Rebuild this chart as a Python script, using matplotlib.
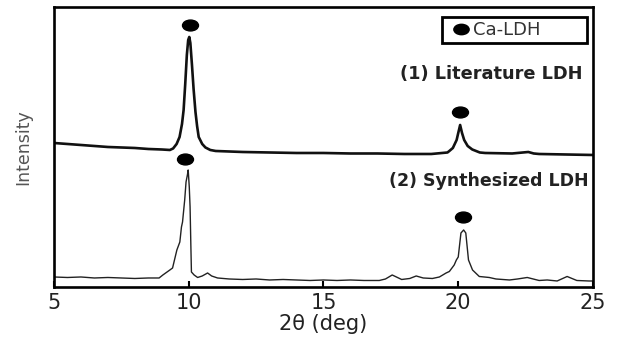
import numpy as np
import matplotlib
matplotlib.use("Agg")
import matplotlib.pyplot as plt
from matplotlib.path import Path
from matplotlib.lines import Line2D

# 2theta (deg) / intensity (a.u.)
lit_2theta = [5.0, 5.5, 6.0, 6.5, 7.0, 7.5, 8.0, 8.5, 9.0, 9.3, 9.42, 9.55, 9.66,
              9.75, 9.81, 9.87, 9.93, 9.98, 10.02, 10.06, 10.12, 10.18, 10.25,
              10.31, 10.37, 10.5, 10.62, 10.8, 11.0, 12.0, 13.0, 14.0, 15.0,
              16.0, 17.0, 18.0, 19.0, 19.6, 19.67, 19.8, 19.94, 20.0, 20.07,
              20.14, 20.22, 20.35, 20.52, 20.8, 21.0, 22.0, 22.6, 22.8, 23.0,
              24.0, 25.0]
lit_int = [144, 143, 142, 141, 140, 139.5, 139, 138, 137.5, 137, 138.5, 143, 150,
           163, 177, 203, 232, 247, 250, 244, 222, 198, 175,
           161, 150, 143, 139.5, 137, 136, 135, 134.5, 134, 134,
           133.5, 133.5, 133, 133, 134.5, 136, 139, 147, 154, 162,
           154, 147, 141, 137.5, 134.5, 134, 133.5, 135, 133.5, 133,
           132.5, 132]

syn_2theta = [5.0, 5.5, 6.0, 6.5, 7.0, 7.5, 8.0, 8.5, 8.9, 9.04, 9.3, 9.4, 9.56,
              9.67, 9.73, 9.77, 9.85, 9.9, 9.95, 9.98, 10.02, 10.05, 10.08, 10.1,
              10.2, 10.33, 10.5, 10.7, 10.85, 11.07, 11.5, 12.0, 12.5, 13.0, 13.5,
              14.0, 14.5, 15.0, 15.5, 16.0, 16.5, 17.07, 17.3, 17.55, 17.9, 18.2,
              18.44, 18.7, 19.04, 19.3, 19.55, 19.67, 19.85, 19.93, 20.0, 20.1,
              20.2, 20.28, 20.38, 20.53, 20.78, 21.15, 21.4, 21.9, 22.2, 22.56,
              23.0, 23.3, 23.67, 24.04, 24.4, 24.85, 25.0]
syn_int = [10, 9.5, 10, 9, 9.5, 9, 8.5, 9, 9, 12, 17, 19, 37,
           45, 60, 65, 87, 105, 112, 117, 100, 80, 40, 15,
           12, 9.5, 11, 14, 11, 9, 8, 7.5, 8, 7, 7.5,
           7, 6.5, 7, 6.5, 7, 6.5, 6.5, 8, 12, 7.5, 8.5,
           11, 9, 8.5, 10, 14, 15.5, 22, 27, 30, 54,
           57, 54, 27, 17, 10.5, 9.5, 8, 7, 8, 9.5,
           6.5, 7, 6, 10.5, 6.5, 6, 6]

# Ca-LDH reflections marked with dots
lit_mark_x = [10.05, 20.08]
lit_mark_y = [262, 175]
syn_mark_x = [9.87, 20.17]
syn_mark_y = [127.5, 69.5]

xticks = [5, 10, 15, 20, 25]

# slightly flattened dot like in the original
circ = Path.unit_circle()
dot = Path(circ.vertices * [1.0, 0.68], circ.codes)

fig = plt.figure(figsize=(6.19, 3.41), dpi=100)
ax = fig.add_axes([0.0872, 0.1584, 0.8708, 0.8211])

ax.plot(lit_2theta, lit_int, color="#111111", lw=1.9)
ax.plot(syn_2theta, syn_int, color="#222222", lw=1.0)
ax.plot(lit_mark_x + syn_mark_x, lit_mark_y + syn_mark_y, ls="none",
        marker=dot, ms=11.5, color="black")

ax.text(24.6, 213, "(1) Literature LDH", ha="right", va="center",
        fontsize=12.8, fontweight="bold", color="#222222")
ax.text(24.85, 106, "(2) Synthesized LDH", ha="right", va="center",
        fontsize=12.5, fontweight="bold", color="#222222")

h = Line2D([], [], ls="none", marker=dot, ms=11, color="black")
leg = ax.legend([h], ["Ca-LDH"], loc="upper left",
                bbox_to_anchor=(0.72, 0.964, 0.269, 0.0), mode="expand",
                borderaxespad=0, fancybox=False, framealpha=1,
                edgecolor="black", fontsize=13, borderpad=0.22,
                handlelength=1.7, handletextpad=-0.2)
leg.get_frame().set_linewidth(2.0)
for t in leg.get_texts():
    t.set_color("#333333")

ax.set_xlim(5, 25)
ax.set_ylim(0, 280)
ax.set_xticks(xticks)
ax.set_yticks([])
ax.tick_params(axis="x", direction="in", length=4.5, width=1.5,
               labelsize=15, labelcolor="#222222", pad=4)
for s in ax.spines.values():
    s.set_linewidth(1.9)

ax.set_xlabel("2θ (deg)", fontsize=15, color="#222222", labelpad=1)
ax.set_ylabel("Intensity", fontsize=12.5, color="#555555", labelpad=16)

fig.savefig("out.png", dpi=100)
